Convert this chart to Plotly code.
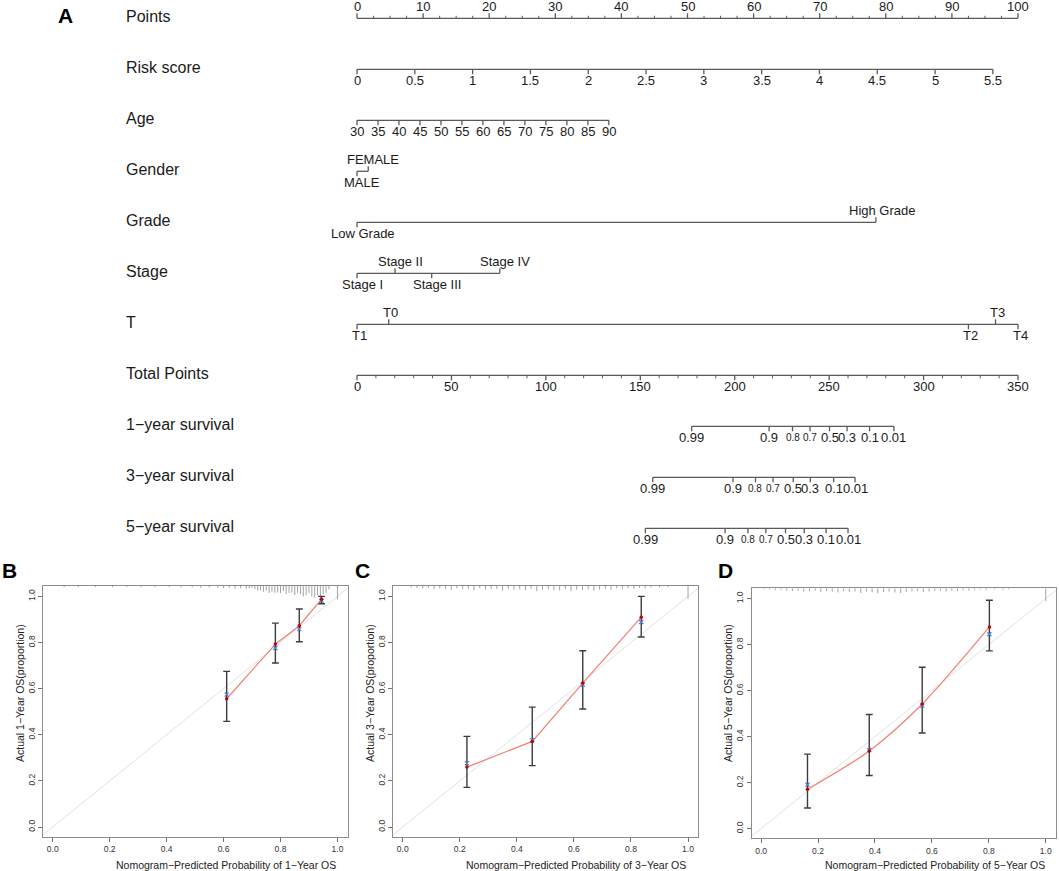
import plotly.graph_objects as go

# ---------------- Nomogram data ----------------
row_names = ["Points", "Risk score", "Age", "Gender", "Grade", "Stage", "T",
             "Total Points", "1\u2212year survival", "3\u2212year survival", "5\u2212year survival"]

points_ticks = [0, 10, 20, 30, 40, 50, 60, 70, 80, 90, 100]

risk_ticks = [0, 0.5, 1, 1.5, 2, 2.5, 3, 3.5, 4, 4.5, 5, 5.5]
risk_tick_labels = ["0", "0.5", "1", "1.5", "2", "2.5", "3", "3.5", "4", "4.5", "5", "5.5"]
risk_points_at_max = 96.2      # points reached at risk score 5.5

age_ticks = [30, 35, 40, 45, 50, 55, 60, 65, 70, 75, 80, 85, 90]
age_points_at_max = 38.1       # points reached at age 90

gender_levels = ["MALE", "FEMALE"]
gender_points = [0, 1.7]

grade_levels = ["Low Grade", "High Grade"]
grade_points = [0, 78.5]

stage_levels = ["Stage I", "Stage II", "Stage III", "Stage IV"]
stage_points = [0, 5.75, 11.3, 21.6]

t_levels = ["T1", "T0", "T2", "T3", "T4"]
t_points = [0, 4.8, 92.5, 96.6, 100]

total_ticks = [0, 50, 100, 150, 200, 250, 300, 350]
total_max = 350

surv_labels = ["0.99", "0.9", "0.8", "0.7", "0.5", "0.3", "0.1", "0.01"]
surv_small = [False, False, True, True, False, False, False, False]
surv1_total = [177.2, 218.2, 230.6, 239.9, 250.2, 259.5, 271.4, 284.3]
surv3_total = [156.6, 199.1, 211.0, 220.3, 231.0, 240.0, 252.4, 263.7]
surv5_total = [152.7, 194.9, 207.0, 216.5, 226.9, 236.8, 248.4, 260.0]

# ---------------- Calibration data ----------------
cal1_pred = [0.611, 0.782, 0.866, 0.944]
cal1_obs = [0.556, 0.793, 0.873, 0.988]
cal1_corr = [0.574, 0.776, 0.858, 0.981]
cal1_lo = [0.458, 0.711, 0.803, 0.968]
cal1_hi = [0.675, 0.884, 0.945, 1.000]

cal3_pred = [0.225, 0.454, 0.631, 0.836]
cal3_obs = [0.260, 0.371, 0.624, 0.910]
cal3_corr = [0.277, 0.376, 0.617, 0.889]
cal3_lo = [0.172, 0.266, 0.512, 0.824]
cal3_hi = [0.393, 0.520, 0.764, 1.000]

cal5_pred = [0.163, 0.380, 0.566, 0.802]
cal5_obs = [0.171, 0.338, 0.542, 0.877]
cal5_corr = [0.191, 0.342, 0.535, 0.845]
cal5_lo = [0.090, 0.231, 0.416, 0.773]
cal5_hi = [0.324, 0.496, 0.702, 0.993]

# rug of predicted probabilities (position, tick length)
rug1_x = [0.04, 0.09, 0.15, 0.21, 0.26, 0.31, 0.36, 0.41, 0.45, 0.49, 0.52, 0.55, 0.58, 0.60,
          0.62, 0.64, 0.66, 0.68, 0.69, 0.70, 0.71, 0.72, 0.73, 0.74, 0.75, 0.76, 0.77, 0.78,
          0.79, 0.80, 0.81, 0.82, 0.83, 0.84, 0.85, 0.86, 0.87, 0.88, 0.89, 0.90, 0.91, 0.92,
          0.93, 0.94, 0.95, 0.96, 0.97, 1.00]
rug1_len = [0.005, 0.005, 0.005, 0.005, 0.005, 0.005, 0.005, 0.005, 0.006, 0.006, 0.008, 0.006,
            0.008, 0.010, 0.008, 0.012, 0.010, 0.012, 0.010, 0.008, 0.014, 0.020, 0.018, 0.025,
            0.020, 0.030, 0.025, 0.030, 0.028, 0.030, 0.022, 0.035, 0.030, 0.028, 0.040, 0.030,
            0.035, 0.045, 0.040, 0.030, 0.045, 0.050, 0.040, 0.055, 0.035, 0.030, 0.015, 0.058]

rug3_x = [0.03, 0.05, 0.07, 0.09, 0.11, 0.13, 0.15, 0.17, 0.19, 0.21, 0.23, 0.25, 0.27, 0.29,
          0.31, 0.33, 0.35, 0.37, 0.39, 0.41, 0.43, 0.45, 0.47, 0.49, 0.51, 0.53, 0.55, 0.57,
          0.59, 0.61, 0.63, 0.65, 0.67, 0.69, 0.71, 0.73, 0.75, 0.77, 0.79, 0.81, 0.83, 0.85,
          0.87, 0.90, 0.93, 1.00]
rug3_len = [0.006, 0.008, 0.010, 0.008, 0.014, 0.010, 0.012, 0.016, 0.010, 0.014, 0.012, 0.018,
            0.010, 0.016, 0.014, 0.012, 0.020, 0.012, 0.016, 0.014, 0.018, 0.012, 0.022, 0.016,
            0.014, 0.018, 0.020, 0.014, 0.022, 0.016, 0.018, 0.014, 0.020, 0.016, 0.012, 0.016,
            0.010, 0.014, 0.010, 0.012, 0.008, 0.010, 0.006, 0.006, 0.005, 0.055]

rug5_x = [0.01, 0.03, 0.05, 0.07, 0.09, 0.11, 0.13, 0.15, 0.17, 0.19, 0.21, 0.23, 0.25, 0.27,
          0.29, 0.31, 0.33, 0.35, 0.37, 0.39, 0.41, 0.43, 0.45, 0.47, 0.49, 0.51, 0.53, 0.55,
          0.57, 0.59, 0.61, 0.63, 0.65, 0.67, 0.69, 0.71, 0.73, 0.75, 0.77, 0.79, 0.82, 0.85,
          0.87, 1.00]
rug5_len = [0.005, 0.006, 0.008, 0.006, 0.010, 0.012, 0.010, 0.014, 0.012, 0.010, 0.016, 0.012,
            0.014, 0.018, 0.012, 0.016, 0.014, 0.020, 0.014, 0.018, 0.022, 0.016, 0.014, 0.018,
            0.020, 0.016, 0.014, 0.012, 0.016, 0.014, 0.012, 0.010, 0.014, 0.010, 0.012, 0.008,
            0.010, 0.008, 0.006, 0.008, 0.005, 0.006, 0.005, 0.055]

# ---------------- Styling ----------------
FONT = "Liberation Sans, Arial, sans-serif"
LINE = "#5a5a5a"
TXT = "#1a1a1a"
ROW_PX = 51.0          # pixel spacing of nomogram rows
TICK = 5 / ROW_PX      # tick length in row units

fig = go.Figure()
annotations = []


def seg_trace(xs, ys, color=LINE, width=1.3, xa="x", ya="y"):
    fig.add_trace(go.Scatter(x=xs, y=ys, mode="lines", line=dict(color=color, width=width),
                             hoverinfo="skip", showlegend=False, xaxis=xa, yaxis=ya,
                             cliponaxis=False))


def label(x, y, text, size=13, yshift=0, xshift=0, xanchor="center", xa="x", ya="y"):
    annotations.append(dict(x=x, y=y, xref=xa, yref=ya, text=text,
                            showarrow=False, xanchor=xanchor, yanchor="middle",
                            xshift=xshift, yshift=yshift,
                            font=dict(family=FONT, size=size, color=TXT)))


def scale_row(row, positions, texts, sides, sizes=None, xshift=0):
    """Draw one nomogram scale: line, ticks (toward label) and labels."""
    xs = [min(positions), max(positions)]
    lx, ly = [xs[0], xs[1], None], [row, row, None]
    for p, s in zip(positions, sides):
        lx += [p, p, None]
        ly += [row, row - TICK if s == "above" else row + TICK, None]
    seg_trace(lx, ly)
    for i, (p, t, s) in enumerate(zip(positions, texts, sides)):
        fs = sizes[i] if sizes else 13
        label(p, row, t, size=fs, yshift=(12 if s == "above" else -11), xshift=xshift)


# row labels
for i, name in enumerate(row_names):
    label(-35.25, i, name, size=16, yshift=2, xanchor="left")

# Points
scale_row(0, points_ticks, [str(v) for v in points_ticks], ["above"] * len(points_ticks))
minor_x, minor_y = [], []
for k in range(40):
    v = k * 2.5
    if v % 10:
        minor_x += [v, v, None]
        minor_y += [0, -2.5 / ROW_PX, None]
seg_trace(minor_x, minor_y, width=1)

# Risk score
risk_pos = [r / risk_ticks[-1] * risk_points_at_max for r in risk_ticks]
scale_row(1, risk_pos, risk_tick_labels, ["below"] * len(risk_pos))

# Age
age_pos = [(a - age_ticks[0]) / (age_ticks[-1] - age_ticks[0]) * age_points_at_max for a in age_ticks]
scale_row(2, age_pos, [str(a) for a in age_ticks], ["below"] * len(age_pos))


def alt(n):
    return ["below" if i % 2 == 0 else "above" for i in range(n)]


scale_row(3, gender_points, gender_levels, alt(2), xshift=5)
scale_row(4, grade_points, grade_levels, alt(2), xshift=6)
scale_row(5, stage_points, stage_levels, alt(4), xshift=5)
scale_row(6, t_points, t_levels, alt(5), xshift=2)

# Total points
tot_pos = [t / total_max * 100 for t in total_ticks]
scale_row(7, tot_pos, [str(t) for t in total_ticks], ["below"] * len(tot_pos))
mx, my = [], []
for k in range(36):
    v = k * 10
    if v % 50:
        p = v / total_max * 100
        mx += [p, p, None]
        my += [7, 7 + 3 / ROW_PX, None]
seg_trace(mx, my, width=1)

# survival rows
for row, tot in [(8, surv1_total), (9, surv3_total), (10, surv5_total)]:
    pos = [t / total_max * 100 for t in tot]
    scale_row(row, pos, surv_labels, ["below"] * len(pos),
              sizes=[10 if s else 13 for s in surv_small])

# panel letter A
annotations.append(dict(x=65 / 1059, y=1 - 16 / 871, xref="paper", yref="paper", text="<b>A</b>",
                        showarrow=False, xanchor="center", yanchor="middle",
                        font=dict(family=FONT, size=21, color="#000")))

# ---------------- Calibration panels ----------------
XR = [-0.033, 1.036]
YR = [-0.042, 1.045]
panels = [
    ("x2", "y2", cal1_pred, cal1_obs, cal1_corr, cal1_lo, cal1_hi, rug1_x, rug1_len, "linear"),
    ("x3", "y3", cal3_pred, cal3_obs, cal3_corr, cal3_lo, cal3_hi, rug3_x, rug3_len, "linear"),
    ("x4", "y4", cal5_pred, cal5_obs, cal5_corr, cal5_lo, cal5_hi, rug5_x, rug5_len, "spline"),
]
for xa, ya, pr, ob, co, lo, hi, rx, rl, shape in panels:
    seg_trace([XR[0], XR[1]], [XR[0], XR[1]], color="#e2e2e2", width=1, xa=xa, ya=ya)
    gx, gy = [], []
    for p, L in zip(rx, rl):
        gx += [p, p, None]
        gy += [YR[1], YR[1] - L, None]
    seg_trace(gx, gy, color="#8a8a8a", width=0.8, xa=xa, ya=ya)
    ex, ey = [], []
    for p, a, b in zip(pr, lo, hi):
        ex += [p, p, None, p - 0.012, p + 0.012, None, p - 0.012, p + 0.012, None]
        ey += [a, b, None, a, a, None, b, b, None]
    seg_trace(ex, ey, color="#3c3c3c", width=1.4, xa=xa, ya=ya)
    fig.add_trace(go.Scatter(x=pr, y=ob, mode="lines", xaxis=xa, yaxis=ya, showlegend=False,
                             line=dict(color="#f2837b", width=1.3, shape=shape, smoothing=0.8),
                             hoverinfo="skip"))
    fig.add_trace(go.Scatter(x=pr, y=co, mode="markers", xaxis=xa, yaxis=ya, showlegend=False,
                             marker=dict(symbol="x-thin", size=4, line=dict(color="#4f7fd0", width=1.3)),
                             hoverinfo="skip"))
    fig.add_trace(go.Scatter(x=pr, y=ob, mode="markers", xaxis=xa, yaxis=ya, showlegend=False,
                             marker=dict(symbol="circle", size=3.5, color="#c40000"),
                             hoverinfo="skip"))

layout_axes = dict(
    xaxis=dict(domain=[0, 1], range=[-357 / 6.61, (1059 - 357) / 6.61], visible=False, fixedrange=True),
    yaxis=dict(domain=[1 - 566 / 871, 1], range=[(566 - 18.3) / ROW_PX, -18.3 / ROW_PX],
               visible=False, fixedrange=True),
)
doms = {"2": ([43.3, 347.7], [586, 836.7]), "3": ([393.3, 698.3], [586, 836.7]),
        "4": ([751.7, 1056], [588.3, 838.3])}
tickv = [0, 0.2, 0.4, 0.6, 0.8, 1.0]
tickt = ["0.0", "0.2", "0.4", "0.6", "0.8", "1.0"]
for k, (dx, dy) in doms.items():
    common = dict(showline=True, mirror=True, linecolor="#8c8c8c", linewidth=1.2, ticks="outside",
                  ticklen=4, tickwidth=1, tickcolor="#707070", showgrid=False, zeroline=False,
                  tickvals=tickv, ticktext=tickt, fixedrange=True,
                  tickfont=dict(family=FONT, size=8.5, color="#333"))
    layout_axes["xaxis" + k] = dict(common, domain=[dx[0] / 1059, dx[1] / 1059], range=XR,
                                    anchor="y" + k)
    layout_axes["yaxis" + k] = dict(common, domain=[1 - dy[1] / 871, 1 - dy[0] / 871], range=YR,
                                    anchor="x" + k, tickangle=-90)

titles = [("1", 225.5, 20, "B", 9), ("3", 575.5, 370, "C", 362), ("5", 934.5, 728, "D", 725)]
for yr, xt, yt, letter, lx in titles:
    annotations.append(dict(x=xt / 1059, y=1 - 865 / 871, xref="paper", yref="paper",
                            text="Nomogram\u2212Predicted Probability of %s\u2212Year OS" % yr,
                            showarrow=False, xanchor="center", yanchor="middle",
                            font=dict(family=FONT, size=10.5, color="#222")))
    annotations.append(dict(x=yt / 1059, y=1 - 693 / 871, xref="paper", yref="paper",
                            text="Actual %s\u2212Year OS(proportion)" % yr, textangle=-90,
                            showarrow=False, xanchor="center", yanchor="middle",
                            font=dict(family=FONT, size=10.5, color="#222")))
    annotations.append(dict(x=lx / 1059, y=1 - 570 / 871, xref="paper", yref="paper",
                            text="<b>%s</b>" % letter, showarrow=False, xanchor="center",
                            yanchor="middle", font=dict(family=FONT, size=21, color="#000")))

fig.update_layout(width=1059, height=871, margin=dict(l=0, r=0, t=0, b=0),
                  paper_bgcolor="white", plot_bgcolor="white", showlegend=False,
                  annotations=annotations, **layout_axes)

fig.write_html("out.html", config={"displayModeBar": False},
               post_script="document.body.style.margin='0';document.body.style.overflow='hidden';")
